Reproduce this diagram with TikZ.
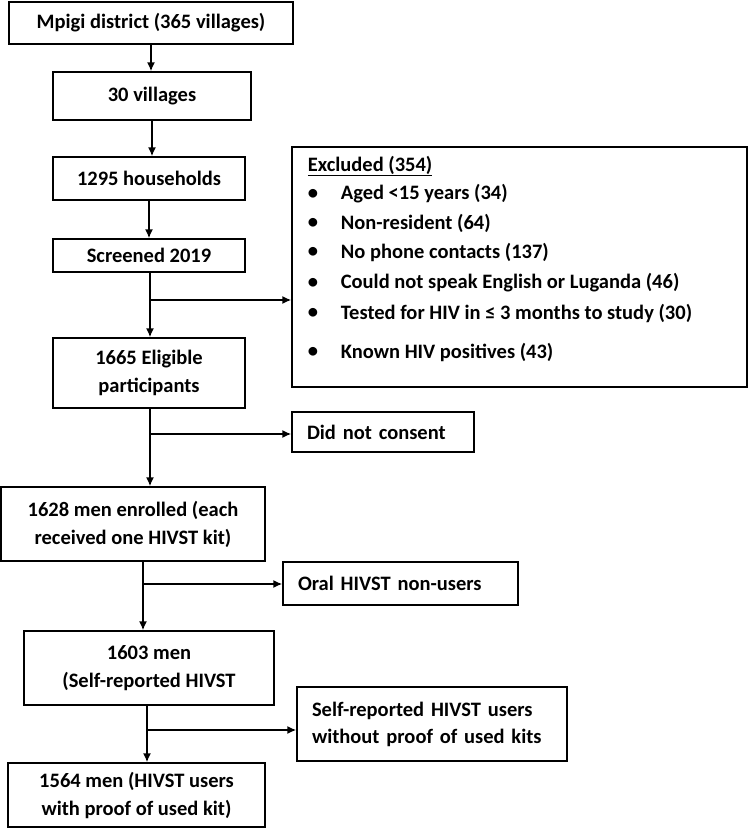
\documentclass[tikz,border=0pt]{standalone}
\usepackage{fontspec}
\setmainfont{Carlito}
\usepackage{tikz}
\usetikzlibrary{arrows.meta,positioning}

\begin{document}
\begin{tikzpicture}[x=1pt,y=-1pt,line width=1.7pt,-{Latex[length=9pt,width=8pt]},
    font=\bfseries\fontsize{20.5}{28}\selectfont]
    \tikzstyle{box}=[rectangle, draw, line width=1.3pt, inner sep=0pt, align=center, -]
    \tikzstyle{side}=[box, align=left, inner xsep=15pt]
    \tikzstyle{lbl}=[inner sep=0pt, anchor=west]

    \useasboundingbox (0,0) rectangle (750,828);

    % main column
    \node[box, minimum width=284pt, minimum height=42pt] (mpigi) at (151,23) {Mpigi district (365 villages)};
    \node[box, minimum width=198pt, minimum height=48pt] (vill) at (152,96) {30 villages};
    \node[box, minimum width=192pt, minimum height=43pt] (hh) at (149,178.5) {1295 households};
    \node[box, minimum width=192pt, minimum height=33pt] (scr) at (149,255.5) {Screened 2019};
    \node[box, minimum width=192pt, minimum height=70pt] (elig) at (149,373) {1665 Eligible\\participants};
    \node[box, minimum width=264pt, minimum height=74pt] (enr) at (133,524) {1628 men enrolled (each\\received one HIVST kit)};
    \node[box, minimum width=250pt, minimum height=74pt] (m1603) at (149,668) {1603 men\\(Self-reported HIVST};
    \node[box, minimum width=257pt, minimum height=64pt] (m1564) at (136.5,795) {1564 men (HIVST users\\with proof of used kit)};

    % side boxes
    \node[box, minimum width=455pt, minimum height=240pt] (excl) at (519.5,267) {};
    \node[lbl] (exh) at (307,166) {\underline{Excluded (354)}};
    \foreach \y/\t [count=\i] in {194/Aged <15 years (34), 223/Non-resident (64),
        252/No phone contacts (137), 283/Could not speak English or Luganda (46),
        313/Tested for HIV in ≤ 3 months to study (30), 352/Known HIV positives (43)} {
        \node[lbl] (bul\i) at (307,\y) {\textbullet};
        \node[lbl] (ex\i) at (340,\y) {\t};
    }
    \node[side, minimum height=40pt, text width=152pt] (noc) at (383,432) {Did not consent};
    \node[side, minimum height=43pt, text width=205pt] (oral) at (400.5,583.5) {Oral HIVST non-users};
    \node[side, minimum height=74pt, text width=240pt, font=\bfseries\fontsize{20.5}{27}\selectfont] (selfr) at (432,724) {Self-reported HIVST users\\without proof of used kits};

    % connectors
    \coordinate (b1) at (150,300);
    \coordinate (b2) at (150,434);
    \coordinate (b3) at (143,584);
    \coordinate (b4) at (147,730);
    \draw (mpigi.south) -- (mpigi.south |- vill.north);
    \draw (vill.south) -- (vill.south |- hh.north);
    \draw (hh.south) -- (hh.south |- scr.north);
    \draw (scr.south -| b1) -- (elig.north -| b1);
    \draw (b1) -- (b1 -| excl.west);
    \draw (elig.south -| b2) -- (enr.north -| b2);
    \draw (b2) -- (b2 -| noc.west);
    \draw (enr.south -| b3) -- (m1603.north -| b3);
    \draw (b3) -- (b3 -| oral.west);
    \draw (m1603.south -| b4) -- (m1564.north -| b4);
    \draw (b4) -- (b4 -| selfr.west);
\end{tikzpicture}
\end{document}
